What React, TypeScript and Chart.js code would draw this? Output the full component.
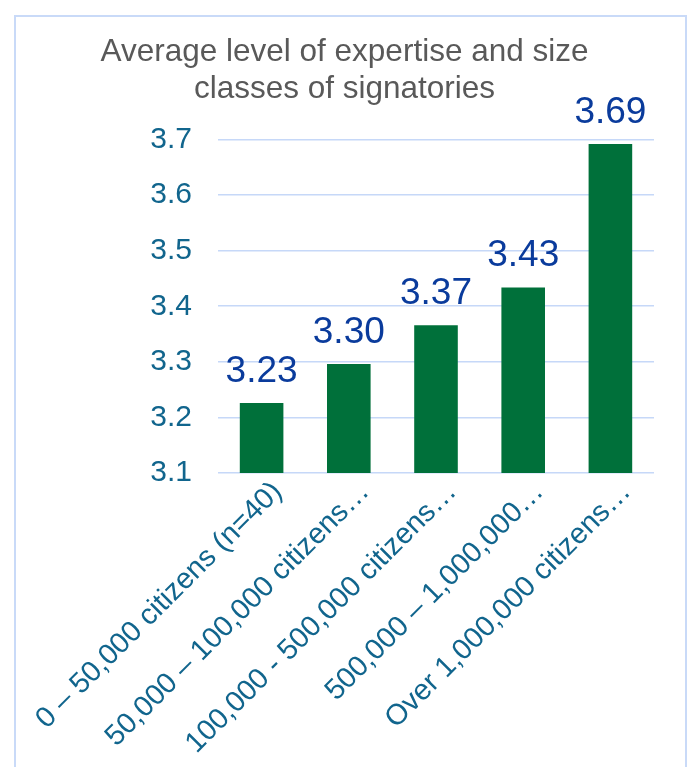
import React, { useEffect, useRef } from 'react';
import { Chart, registerables } from 'chart.js';

Chart.register(...registerables);

const titleLines = ['Average level of expertise and size', 'classes of signatories'];
const categories = [
  '0 – 50,000 citizens (n=40)',
  '50,000 – 100,000 citizens…',
  '100,000 - 500,000 citizens…',
  '500,000 – 1,000,000…',
  'Over 1,000,000 citizens…',
];
const values = [3.226, 3.296, 3.366, 3.434, 3.692];
const valueLabels = ['3.23', '3.30', '3.37', '3.43', '3.69'];
const yMin = 3.1;
const yMax = 3.7;
const yStep = 0.1;

const FONT = '"Liberation Sans", Arial, Helvetica, sans-serif';

const valueLabelPlugin = {
  id: 'valueLabels',
  afterDatasetsDraw(chart: any) {
    const ctx = chart.ctx;
    const meta = chart.getDatasetMeta(0);
    ctx.save();
    ctx.font = `37px ${FONT}`;
    ctx.fillStyle = '#0A3B9C';
    ctx.textAlign = 'center';
    ctx.textBaseline = 'alphabetic';
    meta.data.forEach((bar: any, i: number) => {
      ctx.fillText(valueLabels[i], bar.x, bar.y - 21);
    });
    ctx.restore();
  },
};

const framePlugin = {
  id: 'frame',
  beforeDraw(chart: any) {
    const ctx = chart.ctx;
    ctx.save();
    ctx.fillStyle = '#ffffff';
    ctx.fillRect(0, 0, chart.width, chart.height);
    ctx.strokeStyle = '#c9daf8';
    ctx.lineWidth = 2;
    ctx.strokeRect(15, 16, 671, 800);
    ctx.restore();
  },
};

export default function App() {
  const canvasRef = useRef<HTMLCanvasElement | null>(null);

  useEffect(() => {
    if (!canvasRef.current) return;
    const chart = new Chart(canvasRef.current, {
      type: 'bar',
      data: {
        labels: categories,
        datasets: [
          {
            data: values,
            backgroundColor: '#00703A',
            borderWidth: 0,
            barPercentage: 0.5,
            categoryPercentage: 1,
          },
        ],
      },
      options: {
        animation: false,
        responsive: true,
        maintainAspectRatio: false,
        layout: { padding: { left: 35, right: 35, top: 0, bottom: 0 } },
        plugins: {
          legend: { display: false },
          tooltip: { enabled: false },
          title: {
            display: true,
            text: titleLines,
            color: '#595959',
            font: { family: FONT, size: 31.5, weight: 'normal', lineHeight: 1.2 },
            padding: { top: 33, bottom: 31 },
          },
        },
        scales: {
          x: {
            grid: { display: false },
            border: { display: false },
            ticks: {
              color: '#11658D',
              font: { family: FONT, size: 29 },
              minRotation: 45,
              maxRotation: 45,
              autoSkip: false,
              padding: -6,
              labelOffset: 16,
            },
            afterFit: (s: any) => {
              s.height = 294;
              s.paddingLeft = 0;
              s.paddingRight = 0;
            },
          },
          y: {
            min: yMin,
            max: yMax,
            grid: { color: '#c6d8f8', lineWidth: 1.6, drawTicks: false },
            border: { display: false },
            ticks: {
              stepSize: yStep,
              color: '#11658D',
              font: { family: FONT, size: 30 },
              padding: 26,
              callback: (v: any) => Number(v).toFixed(1),
            },
            afterFit: (s: any) => {
              s.width = 183;
            },
          },
        },
      },
      plugins: [valueLabelPlugin, framePlugin],
    });
    return () => chart.destroy();
  }, []);

  return (
    <div style={{ position: 'fixed', left: 0, top: 0, width: 689, height: 767, background: '#fff' }}>
      <canvas ref={canvasRef} />
    </div>
  );
}
